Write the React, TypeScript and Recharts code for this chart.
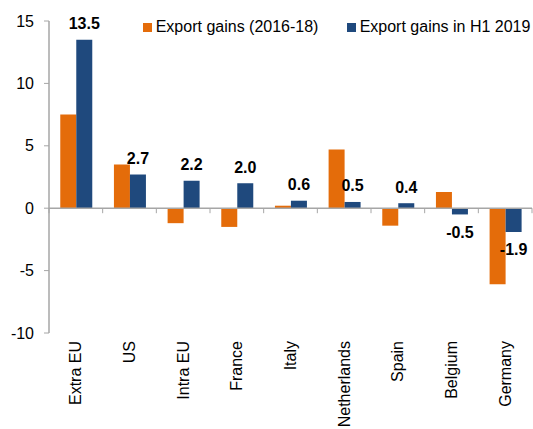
import React from 'react';
import { BarChart, Bar, XAxis, YAxis, ReferenceLine, LabelList, Legend } from 'recharts';

const categories = ['Extra EU', 'US', 'Intra EU', 'France', 'Italy', 'Netherlands', 'Spain', 'Belgium', 'Germany'];
const gains2016to18 = [7.5, 3.5, -1.2, -1.5, 0.2, 4.7, -1.4, 1.3, -6.1];
const gainsH1of2019 = [13.5, 2.7, 2.2, 2.0, 0.6, 0.5, 0.4, -0.5, -1.9];
const yTicks = [-10, -5, 0, 5, 10, 15];
const seriesNames = ['Export gains (2016-18)', 'Export gains in H1 2019'];

const ORANGE = '#E46C0A';
const BLUE = '#1F497D';
const GRID = '#A6A6A6';
const FONT = '"Liberation Sans", Arial, sans-serif';

const data = categories.map((name, i) => ({ name, a: gains2016to18[i], b: gainsH1of2019[i] }));

const XTick = (props: any) => {
  const { x, y, payload } = props;
  return (
    <text
      x={x}
      y={y}
      transform={`rotate(-90, ${x}, ${y})`}
      textAnchor="end"
      dy="0.35em"
      fontSize={16}
      fontFamily={FONT}
      fill="#000"
    >
      {payload.value}
    </text>
  );
};

const ValueLabel = (props: any) => {
  const { x, y, width, height, value } = props;
  const top = Math.min(y, y + height);
  const bottom = Math.max(y, y + height);
  const cx = x + width / 2;
  const ty = value >= 0 ? top - 10.5 : bottom + 23.5;
  return (
    <text x={cx} y={ty} textAnchor="middle" fontSize={16} fontWeight="bold" fontFamily={FONT} fill="#000">
      {Number(value).toFixed(1)}
    </text>
  );
};

const ZeroLine = (props: any) => {
  const { x1, y1, x2, y2 } = props;
  const n = categories.length;
  const step = (x2 - x1) / n;
  const ticks = [];
  for (let k = 0; k <= n; k++) {
    const tx = x1 + k * step;
    ticks.push(<line key={k} x1={tx} y1={y1} x2={tx} y2={y1 + 5} stroke={GRID} strokeWidth={1} />);
  }
  return (
    <g>
      <line x1={x1} y1={y1} x2={x2} y2={y2} stroke={GRID} strokeWidth={1.5} />
      {ticks}
    </g>
  );
};

const LegendContent = () => {
  const colors = [ORANGE, BLUE];
  return (
    <div style={{ display: 'flex', alignItems: 'baseline', fontFamily: FONT, fontSize: 16, color: '#000', whiteSpace: 'nowrap' }}>
      {seriesNames.map((s, i) => (
        <div key={s} style={{ display: 'flex', alignItems: 'baseline', marginRight: i === 0 ? 28.5 : 0 }}>
          <span style={{ display: 'inline-block', width: 9, height: 9, background: colors[i], marginRight: 3.7 }} />
          <span>{s}</span>
        </div>
      ))}
    </div>
  );
};

export default function App() {
  return (
    <div style={{ position: 'absolute', left: 0, top: 0, width: 533, height: 429, background: '#fff' }}>
      <BarChart
        width={533}
        height={429}
        data={data}
        margin={{ top: 21, right: 1, bottom: 0, left: 0 }}
        barCategoryGap="21%"
        barGap={0}
      >
        <XAxis
          dataKey="name"
          axisLine={false}
          tickLine={false}
          tickSize={0}
          tickMargin={8}
          height={96}
          interval={0}
          tick={<XTick />}
        />
        <YAxis
          type="number"
          domain={[-10, 15]}
          ticks={yTicks}
          width={49}
          axisLine={{ stroke: GRID, strokeWidth: 1.5 }}
          tickLine={{ stroke: GRID }}
          tickSize={5}
          tickMargin={10}
          tick={{ fontSize: 16, fontFamily: FONT, fill: '#000' }}
          interval={0}
        />
        <Legend
          layout="horizontal"
          verticalAlign="middle"
          align="center"
          content={<LegendContent />}
          wrapperStyle={{ top: 18, left: 143, width: 'auto' }}
        />
        <Bar dataKey="a" name={seriesNames[0]} fill={ORANGE} isAnimationActive={false} />
        <Bar dataKey="b" name={seriesNames[1]} fill={BLUE} isAnimationActive={false}>
          <LabelList dataKey="b" content={<ValueLabel />} />
        </Bar>
        <ReferenceLine y={0} shape={<ZeroLine />} ifOverflow="visible" />
      </BarChart>
    </div>
  );
}
